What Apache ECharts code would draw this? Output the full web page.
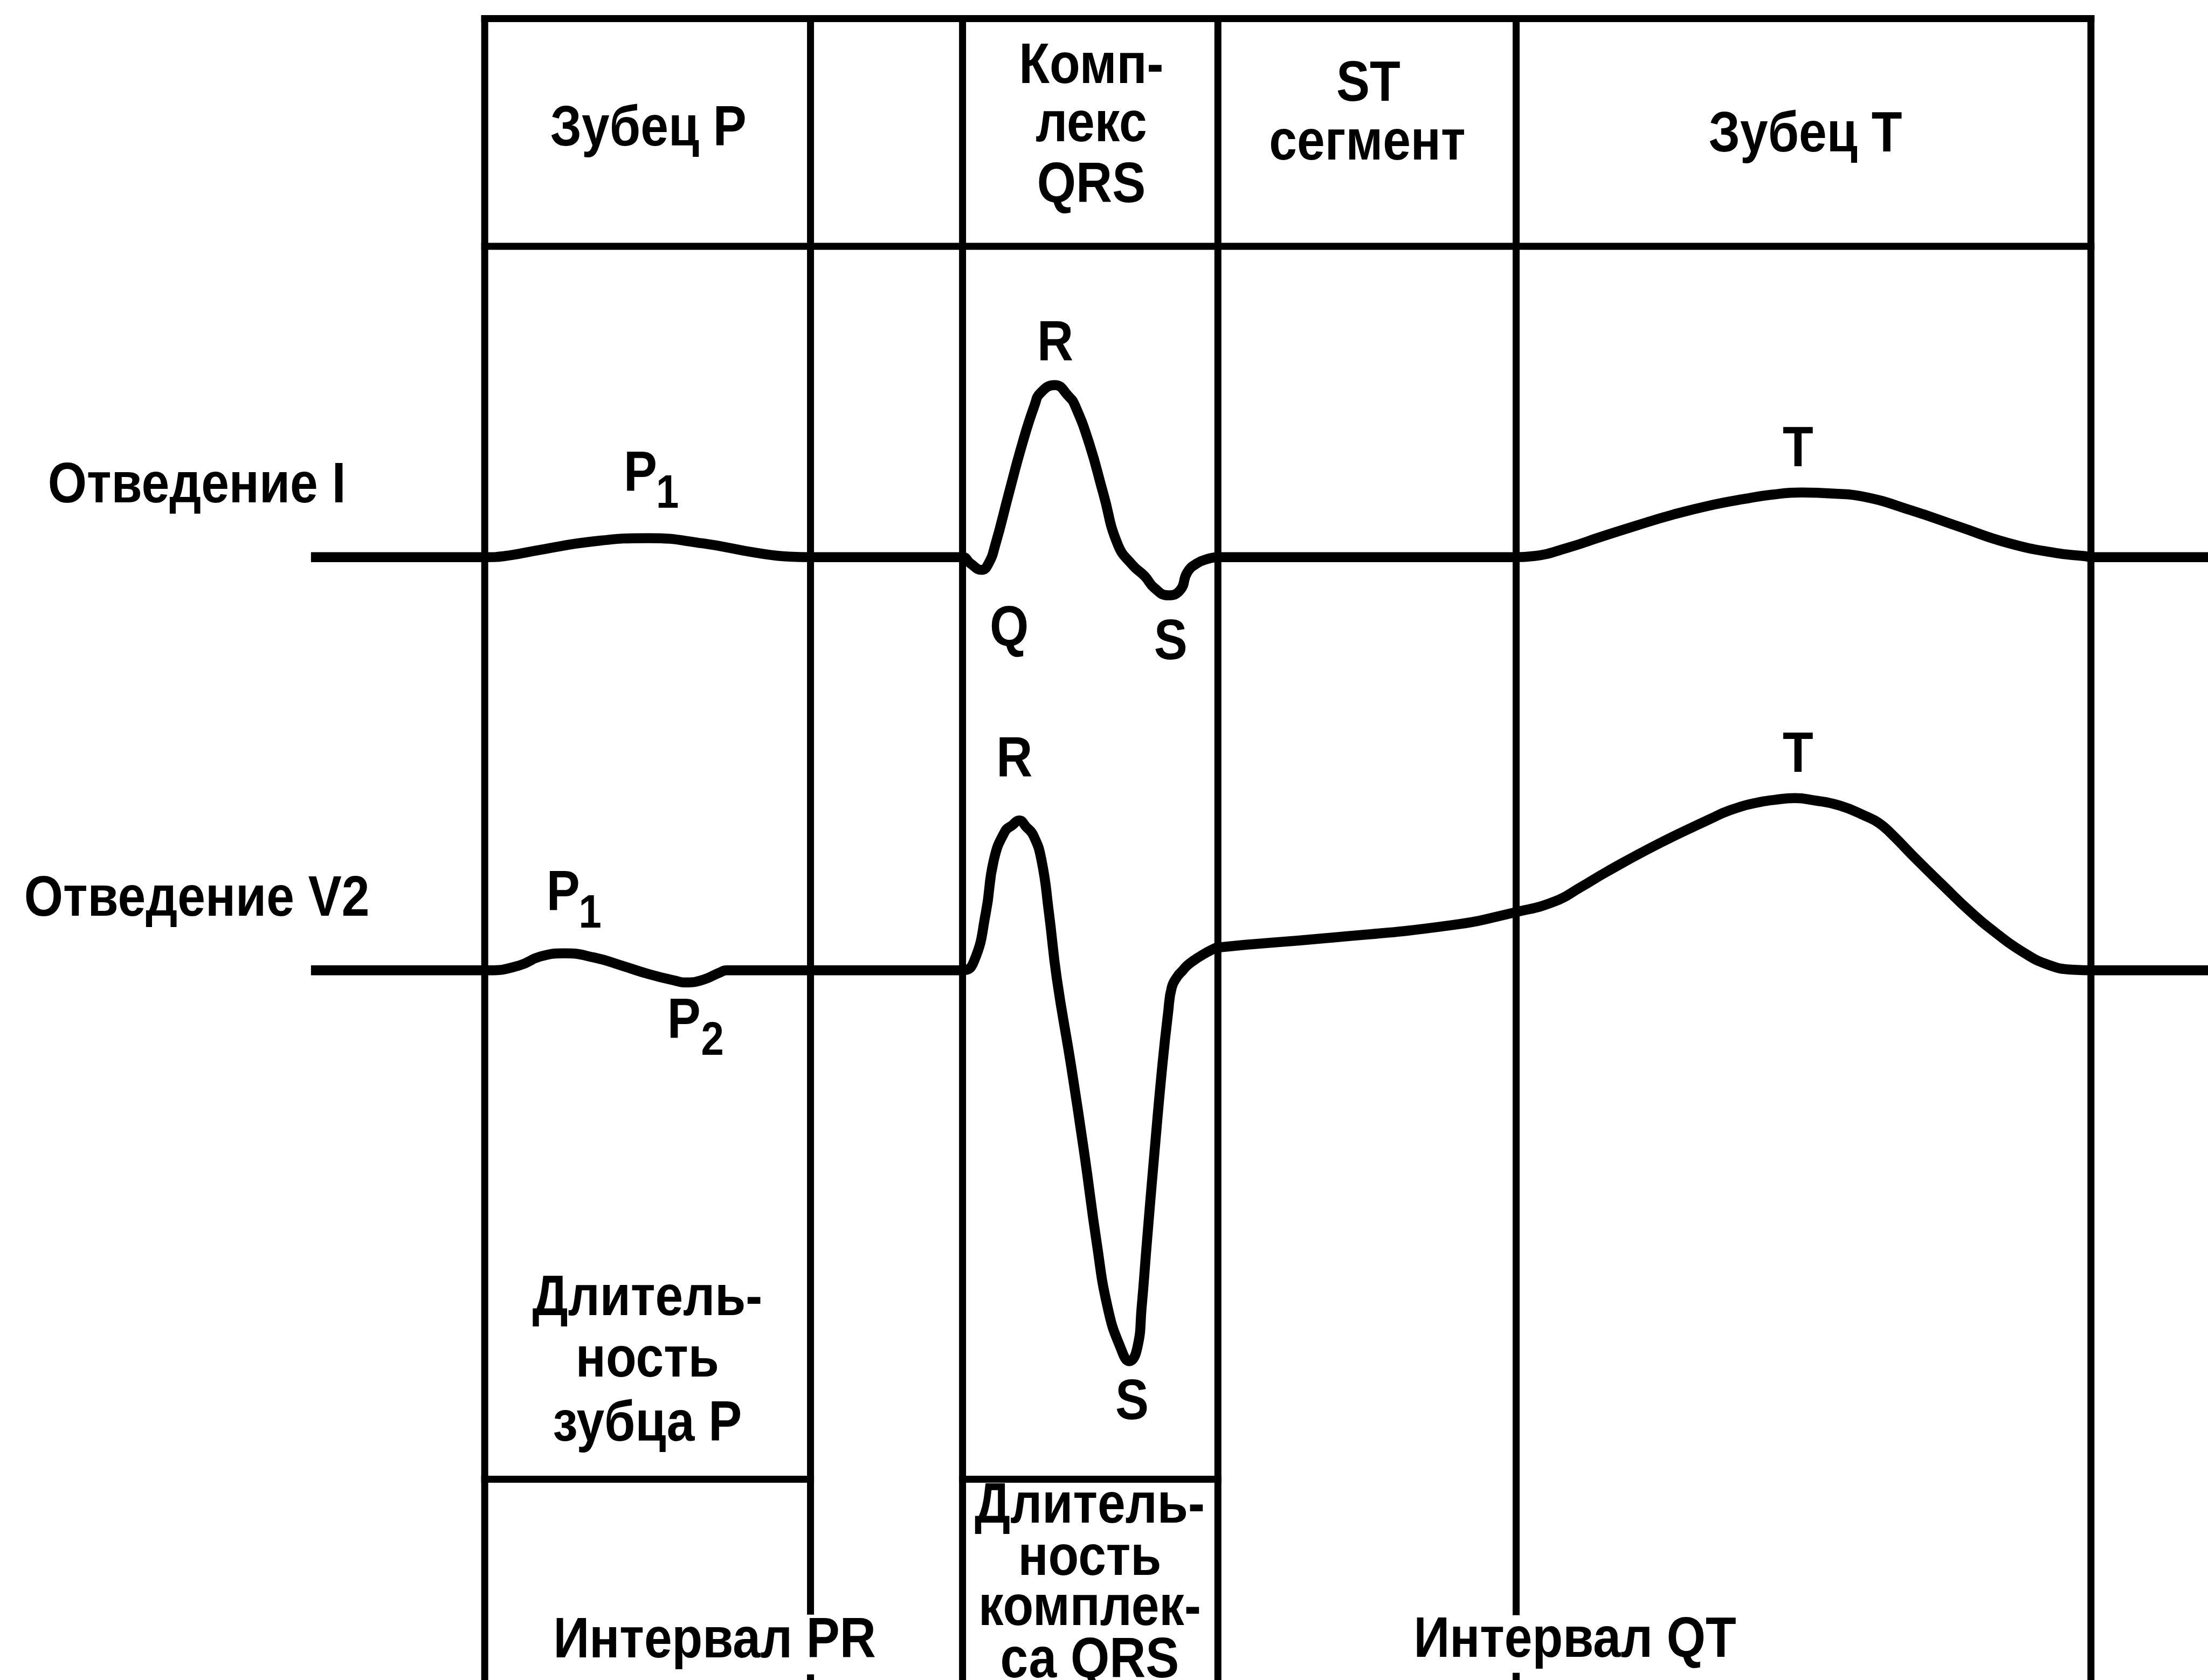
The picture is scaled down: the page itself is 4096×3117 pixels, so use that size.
<!DOCTYPE html>
<html>
<head>
<meta charset="utf-8">
<script src="https://cdn.jsdelivr.net/npm/echarts@6/dist/echarts.min.js"></script>
<style>
html,body{margin:0;padding:0;background:#fff;}
#chart{width:4096px;height:3117px;}
</style>
</head>
<body>
<div id="chart"></div>
<script>
// ---- Data (diagram units: horizontal time units, amplitude units above each lead's baseline) ----
// Lead I trace
const leadI_t  = [587, 915, 959, 1020, 1122, 1224, 1327, 1429, 1490, 1530,
                  1817, 1832, 1853, 1866, 1879, 1904, 1930, 1953, 1964, 1991, 2018, 2029, 2056, 2083, 2110, 2138, 2161, 2179, 2205, 2228, 2241, 2259, 2281, 2299,
                  2862, 2895, 2960, 3021, 3090, 3157, 3225, 3293, 3345, 3401, 3460, 3519, 3609, 3700, 3790, 3880, 3935, 3950, 4168];
const leadI_amp = [0, 0, 3, 14, 30, 36, 26, 8, 1, 0,
                  0, -12, -24, -12, 24, 119, 215, 287, 310, 325, 303, 287, 215, 119, 24, -15, -36, -58, -72, -62, -29, -12, -3, 0,
                  0, 2, 18, 38, 60, 80, 97, 110, 118, 122, 120, 114, 88, 57, 27, 8, 2, 0, 0];
// Lead V2 trace
const leadV2_t  = [587, 915, 923, 980, 1020, 1066, 1122, 1173, 1224, 1276, 1294, 1327, 1357, 1372,
                   1817, 1839, 1861, 1876, 1897, 1911, 1924, 1937, 1951, 1966, 1980, 1995, 2022, 2047, 2070, 2091, 2115, 2132, 2147, 2155, 2165, 2179, 2194, 2205, 2212, 2223, 2232, 2241, 2254, 2268, 2286, 2299,
                   2495, 2739, 2862, 2935, 2984, 3033, 3131, 3229, 3265, 3314, 3351, 3388, 3424, 3473, 3522, 3547, 3571, 3620, 3669, 3718, 3767, 3816, 3865, 3914, 3950, 4168];
const leadV2_amp = [0, 0, 0, 9, 26, 32, 24, 9, -7, -20, -23, -18, -5, 0,
                   0, 18, 109, 208, 262, 274, 283, 271, 254, 208, 109, -16, -181, -347, -513, -637, -712, -738, -712, -637, -513, -347, -181, -80, -32, -11, -1, 9, 19, 28, 38, 43,
                   60, 85, 110, 130, 157, 186, 239, 286, 302, 316, 322, 325, 321, 311, 291, 278, 257, 207, 159, 112, 71, 36, 11, 1, 0, 0];

// Table structure (boundaries between ECG phases)
const columnEdges = [915, 1530, 1817, 2299, 2862, 3947];
const headerRules = [35, 465];
const durationRule = 2793;
const durationBoxes = [[915, 1530], [1817, 2299]];
const textGaps = { 1530: [3042, 3168], 2862: [3043, 3165] };

// Text
const headerTexts = [
  ['Зубец Р', 1224, 245.5], ['Комп-', 2060, 127], ['лекс', 2060, 237], ['QRS', 2060, 352],
  ['ST', 2583, 161], ['сегмент', 2581, 272], ['Зубец Т', 3408, 256.5]
];
const leadNames = [['Отведение I', 371.5, 918.5], ['Отведение V2', 371.5, 1699.5]];
const waveLabels = [
  ['R', 1992, 651], ['Q', 1905, 1190], ['S', 2210, 1215], ['T', 3394, 851],
  ['R', 1915, 1437], ['T', 3394, 1428], ['S', 2137, 2650]
];
const subLabels = [
  ['P', '1', 1209, 897, 1260, 934.5],
  ['P', '1', 1063, 1689, 1114, 1727],
  ['P', '2', 1291, 1930, 1345, 1967.5]
];
const bottomTexts = [
  ['Длитель-', 1222, 2453.5], ['ность', 1222, 2569], ['зубца Р', 1222, 2690.5],
  ['Интервал PR', 1349, 3099.5], ['Интервал QT', 2973, 3099],
  ['Длитель-', 2057, 2845], ['ность', 2057, 2944], ['комплек-', 2057, 3039], ['са QRS', 2057, 3137]
];

// ---- Chart ----
const W = 4168, H = 3172;
const baseI = 1052, baseV2 = 1832;
const S = 4096 / W;
const ECG_W = 18.5, RULE_W = 13;

const chart = echarts.init(document.getElementById('chart'));

const series = [];
function ruleSeries(points) {
  series.push({
    type: 'line', xAxisIndex: 0, yAxisIndex: 0, data: points,
    symbol: 'none', silent: true, animation: false, clip: false,
    lineStyle: { color: '#000', width: RULE_W, cap: 'square' }, z: 3
  });
}
columnEdges.forEach(x => {
  const gap = textGaps[x];
  if (gap) {
    ruleSeries([[x, headerRules[0]], [x, gap[0]]]);
    ruleSeries([[x, gap[1]], [x, H]]);
  } else {
    ruleSeries([[x, headerRules[0]], [x, H]]);
  }
});
headerRules.forEach(y => ruleSeries([[columnEdges[0], y], [columnEdges[columnEdges.length - 1], y]]));
durationBoxes.forEach(b => ruleSeries([[b[0], durationRule], [b[1], durationRule]]));

series.push({
  type: 'line', xAxisIndex: 0, yAxisIndex: 1,
  data: leadI_t.map((t, i) => [t, leadI_amp[i]]),
  smooth: 0.5, symbol: 'none', silent: true, animation: false, clip: false,
  lineStyle: { color: '#000', width: ECG_W, join: 'round' }, z: 4
});
series.push({
  type: 'line', xAxisIndex: 0, yAxisIndex: 2,
  data: leadV2_t.map((t, i) => [t, leadV2_amp[i]]),
  smooth: 0.5, symbol: 'none', silent: true, animation: false, clip: false,
  lineStyle: { color: '#000', width: ECG_W, join: 'round' }, z: 4
});

chart.setOption({
  backgroundColor: '#fff',
  animation: false,
  grid: { left: 0, top: 0, right: 0, bottom: 0, containLabel: false },
  xAxis: { type: 'value', min: 0, max: W, show: false },
  yAxis: [
    { type: 'value', min: 0, max: H, inverse: true, show: false },
    { type: 'value', min: baseI - H, max: baseI, show: false },
    { type: 'value', min: baseV2 - H, max: baseV2, show: false }
  ],
  series: series
});

const FONT = 107.5 * S, SUBFONT = 88 * S;
const graphics = [];
function addText(txt, x, y, size) {
  const p = chart.convertToPixel({ xAxisIndex: 0, yAxisIndex: 0 }, [x, y]);
  graphics.push({
    type: 'text', x: p[0], y: p[1], scaleX: 0.88, z: 10, silent: true,
    style: {
      text: txt, fontSize: size, fontWeight: 'bold',
      fontFamily: '"Liberation Sans", Arial, sans-serif',
      fill: '#000', align: 'center', verticalAlign: 'middle'
    }
  });
}
headerTexts.concat(leadNames, waveLabels, bottomTexts).forEach(d => addText(d[0], d[1], d[2], FONT));
subLabels.forEach(d => { addText(d[0], d[2], d[3], FONT); addText(d[1], d[4], d[5], SUBFONT); });

chart.setOption({ graphic: graphics });
</script>
</body>
</html>
